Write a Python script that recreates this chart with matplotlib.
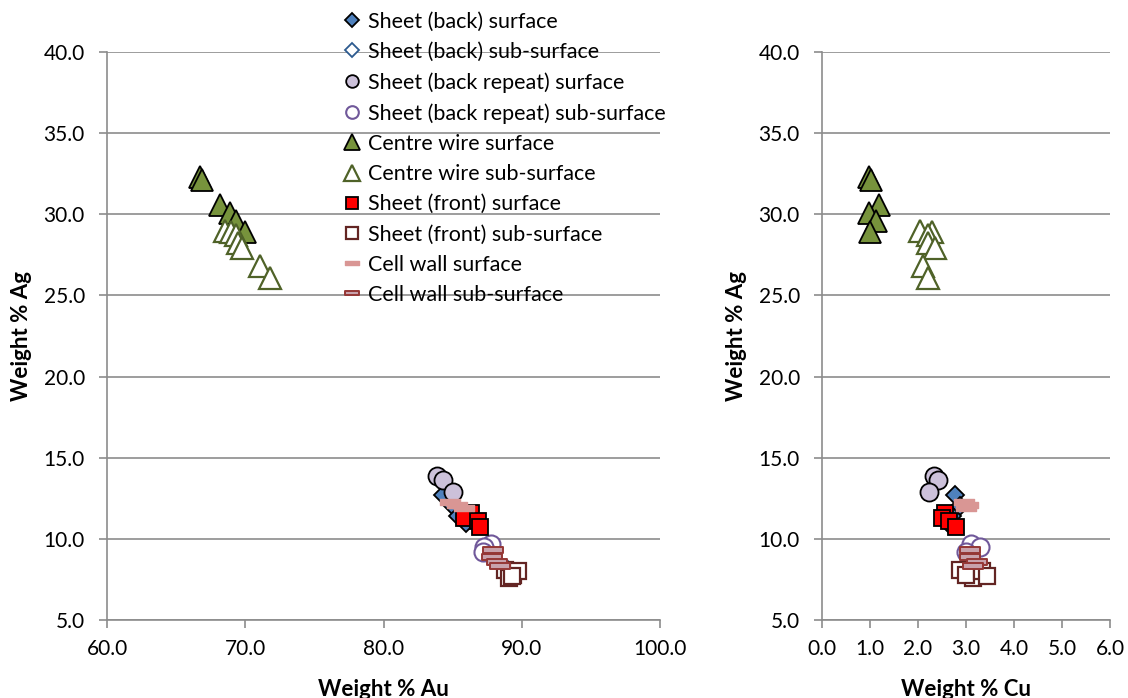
import matplotlib
matplotlib.use("Agg")
import matplotlib.pyplot as plt
from matplotlib.path import Path
import numpy as np

plt.rcParams['font.family'] = ['Lato', 'DejaVu Sans']

# ---- data: (Au, Cu, Ag) weight % ----
labels = ["Sheet (back) surface", "Sheet (back) sub-surface",
          "Sheet (back repeat) surface", "Sheet (back repeat) sub-surface",
          "Centre wire surface", "Centre wire sub-surface",
          "Sheet (front) surface", "Sheet (front) sub-surface",
          "Cell wall surface", "Cell wall sub-surface"]

back_s_au = [84.3, 85.0, 85.4, 86.0]
back_s_cu = [2.78, 2.88, 2.70, 2.62]
back_s_ag = [12.7, 12.0, 11.4, 11.0]

back_ss_au = [89.0, 89.2, 89.5]
back_ss_cu = [3.00, 3.20, 3.40]
back_ss_ag = [8.1, 7.9, 7.8]

rep_s_au = [83.9, 84.3, 85.0]
rep_s_cu = [2.33, 2.42, 2.23]
rep_s_ag = [13.9, 13.6, 12.9]

rep_ss_au = [87.8, 87.3, 87.2]
rep_ss_cu = [3.10, 3.30, 3.00]
rep_ss_ag = [9.7, 9.5, 9.2]

wire_s_au = [66.7, 66.9, 68.2, 68.9, 69.3, 70.0]
wire_s_cu = [0.97, 1.03, 1.18, 0.98, 1.12, 1.00]
wire_s_ag = [32.3, 32.1, 30.6, 30.1, 29.6, 28.9]

wire_ss_au = [68.5, 69.0, 69.3, 69.5, 69.8, 71.1, 71.8]
wire_ss_cu = [2.05, 2.30, 2.20, 2.20, 2.35, 2.10, 2.20]
wire_ss_ag = [29.0, 28.9, 28.7, 28.2, 27.9, 26.8, 26.1]

front_s_au = [86.3, 85.8, 86.8, 87.0]
front_s_cu = [2.57, 2.50, 2.65, 2.80]
front_s_ag = [11.6, 11.3, 11.1, 10.7]

front_ss_au = [88.8, 89.1, 89.4, 89.7, 89.3]
front_ss_cu = [2.88, 3.15, 3.00, 3.33, 3.44]
front_ss_ag = [8.1, 7.6, 7.8, 8.0, 7.7]

cell_s_au = [84.8, 85.3, 85.8]
cell_s_cu = [2.95, 3.05, 3.00]
cell_s_ag = [12.3, 12.1, 11.9]

cell_ss_au = [87.9, 87.85, 88.2, 88.4]
cell_ss_cu = [3.08, 3.08, 3.23, 3.15]
cell_ss_ag = [9.3, 8.9, 8.6, 8.3]

x_ticks_au = [60.0, 70.0, 80.0, 90.0, 100.0]
x_ticks_cu = [0.0, 1.0, 2.0, 3.0, 4.0, 5.0, 6.0]
y_ticks = [5.0, 10.0, 15.0, 20.0, 25.0, 30.0, 35.0, 40.0]

bar = Path([(-1, -0.28), (1, -0.28), (1, 0.28), (-1, 0.28), (-1, -0.28)],
           [Path.MOVETO, Path.LINETO, Path.LINETO, Path.LINETO, Path.CLOSEPOLY])

series = [
    (back_s_au, back_s_cu, back_s_ag, dict(marker='D', ms=9.5, mfc='#4F81BD', mec='black', mew=1.3)),
    (back_ss_au, back_ss_cu, back_ss_ag, dict(marker='D', ms=9.5, mfc='white', mec='#2C5A8F', mew=1.3)),
    (rep_s_au, rep_s_cu, rep_s_ag, dict(marker='o', ms=13, mfc='#CCC1DA', mec='black', mew=1.3)),
    (rep_ss_au, rep_ss_cu, rep_ss_ag, dict(marker='o', ms=13, mfc='white', mec='#70589A', mew=1.5)),
    (wire_s_au, wire_s_cu, wire_s_ag, dict(marker='^', ms=15.5, mfc='#77933C', mec='black', mew=1.3)),
    (wire_ss_au, wire_ss_cu, wire_ss_ag, dict(marker='^', ms=15.5, mfc='white', mec='#4F6228', mew=1.6)),
    (front_s_au, front_s_cu, front_s_ag, dict(marker='s', ms=12, mfc='#FF0000', mec='black', mew=1.3)),
    (front_ss_au, front_ss_cu, front_ss_ag, dict(marker='s', ms=12, mfc='white', mec='#632523', mew=1.6)),
    (cell_s_au, cell_s_cu, cell_s_ag, dict(marker=bar, ms=14, mfc='#D99694', mec='#D99694', mew=1.0)),
    (cell_ss_au, cell_ss_cu, cell_ss_ag, dict(marker=bar, ms=14, mfc='#C8A2AC', mec='#953735', mew=1.4)),
]

fig = plt.figure(figsize=(11.28, 6.98), dpi=100)
axL = fig.add_axes([107/1128, 78/698, (660-107)/1128, (620-52)/698])
axR = fig.add_axes([822/1128, 78/698, (1110-822)/1128, (620-52)/698])

handles = []
for (au, cu, ag, st), lab in zip(series, labels):
    h, = axL.plot(au, ag, ls='none', label=lab, **st)
    axR.plot(cu, ag, ls='none', **st)
    handles.append(h)

grey = '#8C8C8C'
for ax, xt, xlab in [(axL, x_ticks_au, 'Weight % Au'), (axR, x_ticks_cu, 'Weight % Cu')]:
    ax.set_ylim(5, 40)
    ax.set_xlim(xt[0], xt[-1])
    ax.set_xticks(xt)
    ax.set_yticks(y_ticks)
    ax.set_xticklabels([f"{v:.1f}" for v in xt])
    ax.set_yticklabels([f"{v:.1f}" for v in y_ticks])
    ax.grid(axis='y', color=grey, lw=1.2)
    ax.set_axisbelow(True)
    for s in ['top', 'right']:
        ax.spines[s].set_visible(False)
    for s in ['left', 'bottom']:
        ax.spines[s].set_color(grey)
        ax.spines[s].set_linewidth(1.2)
    ax.tick_params(axis='both', colors=grey, labelcolor='black', labelsize=15,
                   length=6, width=1.2, direction='out')
    ax.tick_params(axis='x', pad=8)
    ax.tick_params(axis='y', pad=10)
    ax.set_xlabel(xlab, fontsize=16, fontweight='bold', labelpad=14)
    ax.set_ylabel('Weight % Ag', fontsize=16, fontweight='bold', labelpad=8)
    for sp in ax.spines.values():
        sp.set_zorder(0.5)

fig.legend(handles=handles, labels=labels, loc='upper left',
           bbox_to_anchor=(330/1128, 1 - 1/698), frameon=False,
           fontsize=15.5, handlelength=1.0, handletextpad=0.25,
           labelspacing=0.475, borderpad=0, numpoints=1, markerscale=0.7)

fig.savefig('out.png', dpi=100)
